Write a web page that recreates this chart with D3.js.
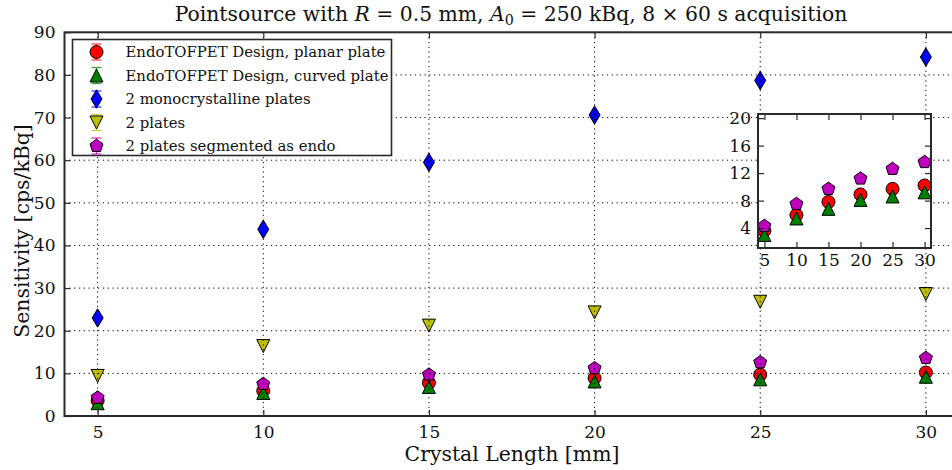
<!DOCTYPE html>
<html>
<head>
<meta charset="utf-8">
<script src="https://cdn.jsdelivr.net/npm/d3@7"></script>
<style>
  html, body { margin: 0; padding: 0; background: #fff; }
  svg { display: block; }
  text { font-family: "DejaVu Serif", "Liberation Serif", serif; fill: #111; }
</style>
</head>
<body>
<svg id="chart" width="952" height="470"></svg>
<script>
// Crystal lengths (mm) and measured sensitivities (cps/kBq)
const lengths = [5, 10, 15, 20, 25, 30];
const planarPlate = [3.6, 5.9, 7.8, 8.9, 9.7, 10.2];
const curvedPlate = [3.0, 5.4, 6.8, 8.1, 8.6, 9.2];
const monoPlates = [23.0, 43.8, 59.5, 70.6, 78.7, 84.2];
const twoPlates = [9.4, 16.4, 21.2, 24.3, 26.8, 28.6];
const segmentedPlates = [4.3, 7.5, 9.7, 11.2, 12.6, 13.6];

const seriesNames = [
  "EndoTOFPET Design, planar plate",
  "EndoTOFPET Design, curved plate",
  "2 monocrystalline plates",
  "2 plates",
  "2 plates segmented as endo"
];

const xTicks = [5, 10, 15, 20, 25, 30];
const yTicks = [0, 10, 20, 30, 40, 50, 60, 70, 80, 90];
const insetYTicks = [4, 8, 12, 16, 20];

const series = [
  { name: seriesNames[0], values: planarPlate, color: "#ff0000", marker: "circle" },
  { name: seriesNames[1], values: curvedPlate, color: "#008000", marker: "triangleUp" },
  { name: seriesNames[2], values: monoPlates, color: "#0000ff", marker: "diamond" },
  { name: seriesNames[3], values: twoPlates, color: "#bfbf00", marker: "triangleDown" },
  { name: seriesNames[4], values: segmentedPlates, color: "#bf00bf", marker: "pentagon" }
];
const insetSeries = [series[0], series[1], series[4]];

// marker shapes, ms = marker size in px
const MS = 13;
function markerPath(kind, ms) {
  const h = ms / 2;
  const p = d3.path();
  if (kind === "circle") {
    p.arc(0, 0, h, 0, 2 * Math.PI);
  } else if (kind === "triangleUp") {
    p.moveTo(0, -h); p.lineTo(-h, h); p.lineTo(h, h); p.closePath();
  } else if (kind === "triangleDown") {
    p.moveTo(0, h); p.lineTo(-h, -h); p.lineTo(h, -h); p.closePath();
  } else if (kind === "diamond") {
    const hy = ms * Math.SQRT2 / 2, hx = hy * 0.6;
    p.moveTo(0, -hy); p.lineTo(hx, 0); p.lineTo(0, hy); p.lineTo(-hx, 0); p.closePath();
  } else if (kind === "pentagon") {
    for (let i = 0; i < 5; i++) {
      const a = -Math.PI / 2 + i * 2 * Math.PI / 5;
      const px = h * 1.05 * Math.cos(a), py = h * 1.05 * Math.sin(a);
      if (i === 0) p.moveTo(px, py); else p.lineTo(px, py);
    }
    p.closePath();
  }
  return p.toString();
}

// scale a text element's font size so it spans the given width
function fitWidth(sel, width) {
  const size = parseFloat(sel.attr("font-size"));
  const len = sel.node().getComputedTextLength();
  if (len > 0) sel.attr("font-size", (size * width / len).toFixed(2));
  return size * width / len;
}

const svg = d3.select("#chart");
const frameColor = "#2a2a2a";
const tickFont = "Liberation Serif";

// ---------- main axes ----------
const main = { left: 64.5, right: 959, top: 32.3, bottom: 416 };
const x = d3.scaleLinear().domain([4, 31]).range([main.left, main.right]);
const y = d3.scaleLinear().domain([0, 90]).range([main.bottom, main.top]);

const gMain = svg.append("g");

series.forEach(s => {
  gMain.append("g").selectAll("path")
    .data(lengths.map((l, i) => [l, s.values[i]]))
    .join("path")
    .attr("transform", d => `translate(${x(d[0])},${y(d[1])})`)
    .attr("d", markerPath(s.marker, MS))
    .attr("fill", s.color)
    .attr("stroke", "#000")
    .attr("stroke-width", 1);
});

// dotted grid drawn above the markers
const grid = gMain.append("g")
  .attr("stroke", "#000").attr("stroke-width", 1)
  .attr("stroke-dasharray", "1.2,3.6");
grid.selectAll("line.gx").data(xTicks).join("line")
  .attr("x1", d => x(d)).attr("x2", d => x(d))
  .attr("y1", main.top).attr("y2", main.bottom);
grid.selectAll("line.gy").data(yTicks.slice(1, -1)).join("line")
  .attr("x1", main.left).attr("x2", main.right)
  .attr("y1", d => y(d)).attr("y2", d => y(d));

// axes with inward ticks
const tick = 6;
gMain.append("g").attr("transform", `translate(0,${main.bottom})`)
  .call(d3.axisBottom(x).tickValues(xTicks).tickSize(-tick).tickPadding(10))
  .call(g => g.select(".domain").remove());
gMain.append("g").attr("transform", `translate(0,${main.top})`)
  .call(d3.axisTop(x).tickValues(xTicks).tickSize(-tick).tickFormat(""))
  .call(g => g.select(".domain").remove());
gMain.append("g").attr("transform", `translate(${main.left},0)`)
  .call(d3.axisLeft(y).tickValues(yTicks).tickSize(-tick).tickPadding(9))
  .call(g => g.select(".domain").remove());
gMain.append("g").attr("transform", `translate(${main.right},0)`)
  .call(d3.axisRight(y).tickValues(yTicks).tickSize(-tick).tickFormat(""))
  .call(g => g.select(".domain").remove());
gMain.selectAll(".tick line").attr("stroke", frameColor).attr("stroke-width", 1.2);
gMain.selectAll(".tick text")
  .attr("font-family", tickFont).attr("font-size", 17).attr("fill", "#222");

gMain.append("rect")
  .attr("x", main.left).attr("y", main.top)
  .attr("width", main.right - main.left).attr("height", main.bottom - main.top)
  .attr("fill", "none").attr("stroke", frameColor).attr("stroke-width", 2);

// ---------- legend ----------
const leg = svg.append("g").attr("transform", "translate(72.5,39.5)");
leg.append("rect").attr("width", 319).attr("height", 116)
  .attr("fill", "#fff").attr("stroke", frameColor).attr("stroke-width", 1.6);
const legTexts = [];
series.forEach((s, i) => {
  const row = leg.append("g").attr("transform", `translate(24,${12.5 + i * 23.5})`);
  const eb = row.append("g").attr("stroke", s.color).attr("stroke-width", 1.3).attr("opacity", 0.75);
  eb.append("line").attr("x1", 0).attr("x2", 0).attr("y1", -8).attr("y2", 8);
  eb.append("line").attr("x1", -5).attr("x2", 5).attr("y1", -8).attr("y2", -8);
  eb.append("line").attr("x1", -5).attr("x2", 5).attr("y1", 8).attr("y2", 8);
  row.append("path").attr("d", markerPath(s.marker, MS))
    .attr("fill", s.color).attr("stroke", "#000").attr("stroke-width", 1);
  legTexts.push(row.append("text").attr("x", 29).attr("y", 5)
    .attr("font-size", 14).text(s.name));
});
const legSize = fitWidth(legTexts[0], 260);
legTexts.forEach(t => t.attr("font-size", legSize.toFixed(2)));

// ---------- inset ----------
const ins = { left: 758, right: 931, top: 114, bottom: 248 };
const xi = d3.scaleLinear().domain([4, 31]).range([ins.left, ins.right]);
const yi = d3.scaleLinear().domain([1.1, 20.6]).range([ins.bottom, ins.top]);
const gIns = svg.append("g");
gIns.append("rect")
  .attr("x", ins.left).attr("y", ins.top)
  .attr("width", ins.right - ins.left).attr("height", ins.bottom - ins.top)
  .attr("fill", "#fff");
insetSeries.forEach(s => {
  gIns.append("g").selectAll("path")
    .data(lengths.map((l, i) => [l, s.values[i]]))
    .join("path")
    .attr("transform", d => `translate(${xi(d[0])},${yi(d[1])})`)
    .attr("d", markerPath(s.marker, MS))
    .attr("fill", s.color)
    .attr("stroke", "#000")
    .attr("stroke-width", 1);
});
gIns.append("g").attr("transform", `translate(0,${ins.bottom})`)
  .call(d3.axisBottom(xi).tickValues(xTicks).tickSize(-tick).tickPadding(6))
  .call(g => g.select(".domain").remove());
gIns.append("g").attr("transform", `translate(0,${ins.top})`)
  .call(d3.axisTop(xi).tickValues(xTicks).tickSize(-tick).tickFormat(""))
  .call(g => g.select(".domain").remove());
gIns.append("g").attr("transform", `translate(${ins.left},0)`)
  .call(d3.axisLeft(yi).tickValues(insetYTicks).tickSize(-tick).tickPadding(7))
  .call(g => g.select(".domain").remove());
gIns.append("g").attr("transform", `translate(${ins.right},0)`)
  .call(d3.axisRight(yi).tickValues(insetYTicks).tickSize(-tick).tickFormat(""))
  .call(g => g.select(".domain").remove());
gIns.selectAll(".tick line").attr("stroke", frameColor).attr("stroke-width", 1.2);
gIns.selectAll(".tick text")
  .attr("font-family", tickFont).attr("font-size", 17).attr("fill", "#222");
gIns.append("rect")
  .attr("x", ins.left).attr("y", ins.top)
  .attr("width", ins.right - ins.left).attr("height", ins.bottom - ins.top)
  .attr("fill", "none").attr("stroke", frameColor).attr("stroke-width", 2);

// ---------- titles ----------
const title = svg.append("text").attr("x", 511).attr("y", 21)
  .attr("text-anchor", "middle").attr("font-size", 20);
title.append("tspan").text("Pointsource with ");
title.append("tspan").attr("font-style", "italic").text("R");
title.append("tspan").text(" = 0.5 mm, ");
title.append("tspan").attr("font-style", "italic").text("A");
title.append("tspan").attr("font-size", "0.7em").attr("dy", 4).text("0");
title.append("tspan").attr("dy", -4).text(" = 250 kBq, 8 × 60 s acquisition");
fitWidth(title, 673);

const xLabel = svg.append("text").attr("x", 512).attr("y", 461)
  .attr("text-anchor", "middle").attr("font-size", 20)
  .text("Crystal Length [mm]");
fitWidth(xLabel, 215);

const yLabel = svg.append("text")
  .attr("transform", "translate(29,231) rotate(-90)")
  .attr("text-anchor", "middle").attr("font-size", 20)
  .text("Sensitivity [cps/kBq]");
fitWidth(yLabel, 214);
</script>
</body>
</html>
